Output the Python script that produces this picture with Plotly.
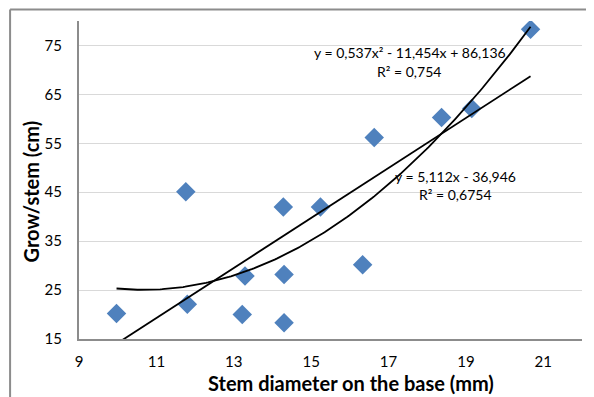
import numpy as np
import plotly.graph_objects as go

# Data
stem_diameter = [9.97, 11.80, 11.76, 13.29, 13.22, 14.28, 14.30, 14.30, 15.24, 16.33, 16.63, 18.37, 19.15, 20.67]
growth = [20.2, 22.1, 45.1, 27.9, 20.0, 42.0, 28.2, 18.3, 42.0, 30.2, 56.2, 60.3, 62.1, 78.3]

# Trendline coefficients shown on the chart
poly_coef = [0.537, -11.454, 86.136]   # a x^2 + b x + c
lin_coef = [5.112, -36.946]            # m x + q

x_ticks = [9, 11, 13, 15, 17, 19, 21]
y_ticks = [15, 25, 35, 45, 55, 65, 75]

FONT = "Lato"
BLUE = "#4F81BD"
AXIS_GRAY = "#8C8C8C"
GRID_GRAY = "#D9D9D9"

xs = np.linspace(min(stem_diameter), max(stem_diameter), 200)
y_poly = np.polyval(poly_coef, xs)
y_lin = np.polyval(lin_coef, xs)

fig = go.Figure()
fig.add_trace(go.Scatter(
    x=stem_diameter, y=growth, mode="markers",
    marker=dict(symbol="diamond", size=15, color=BLUE, line=dict(width=0)),
    showlegend=False))
fig.add_trace(go.Scatter(x=xs, y=y_poly, mode="lines",
                         line=dict(color="black", width=1.8), showlegend=False))
fig.add_trace(go.Scatter(x=xs, y=y_lin, mode="lines",
                         line=dict(color="black", width=1.8), showlegend=False))

ann_font = dict(family=FONT, size=14, color="black")
annotations = [
    dict(x=17.55, y=73.5, text="y = 0,537x² - 11,454x + 86,136"),
    dict(x=17.52, y=69.6, text="R² = 0,754"),
    dict(x=18.72, y=48.2, text="y = 5,112x - 36,946"),
    dict(x=18.72, y=44.5, text="R² = 0,6754"),
]
for a in annotations:
    fig.add_annotation(xref="x", yref="y", showarrow=False, font=ann_font,
                       xanchor="center", yanchor="middle", **a)

# Axis titles
fig.add_annotation(xref="paper", yref="paper", x=0.54, y=-0.138, showarrow=False,
                   xanchor="center", yanchor="middle",
                   text="<b>Stem diameter on the base (mm)</b>",
                   font=dict(family=FONT, size=20, color="black"))
fig.add_annotation(xref="paper", yref="paper", x=-0.0954, y=0.464, showarrow=False,
                   xanchor="center", yanchor="middle", textangle=-90,
                   text="<b>Grow/stem (cm)</b>",
                   font=dict(family=FONT, size=20, color="black"))

# The page places the figure 8px in from the top-left corner, so the figure
# is sized to the remaining visible area.
fig.update_layout(
    width=586, height=389,
    margin=dict(l=71, r=12, t=13, b=58, autoexpand=False),
    paper_bgcolor="white", plot_bgcolor="white",
    font=dict(family=FONT, color="black"),
    xaxis=dict(range=[9, 22], tickvals=x_ticks, ticktext=[str(v) for v in x_ticks],
               showgrid=False, zeroline=False, showline=True, linecolor=AXIS_GRAY,
               linewidth=2, ticks="", tickfont=dict(family=FONT, size=15),
               ticklabelstandoff=8, automargin=False),
    yaxis=dict(range=[15, 80], tickvals=y_ticks, ticktext=[str(v) for v in y_ticks],
               showgrid=True, gridcolor=GRID_GRAY, gridwidth=1, zeroline=False,
               showline=True, linecolor=AXIS_GRAY, linewidth=2, ticks="",
               tickfont=dict(family=FONT, size=15), ticklabelstandoff=12,
               automargin=False),
)

# Outer chart-area border (top and left edges visible)
fig.add_shape(type="line", xref="paper", yref="paper",
              x0=-0.137, x1=1.1, y0=1.036, y1=1.036,
              line=dict(color=AXIS_GRAY, width=2))
fig.add_shape(type="line", xref="paper", yref="paper",
              x0=-0.137, x1=-0.137, y0=1.036, y1=-0.3,
              line=dict(color=AXIS_GRAY, width=2))

fig.write_html("out.html")
